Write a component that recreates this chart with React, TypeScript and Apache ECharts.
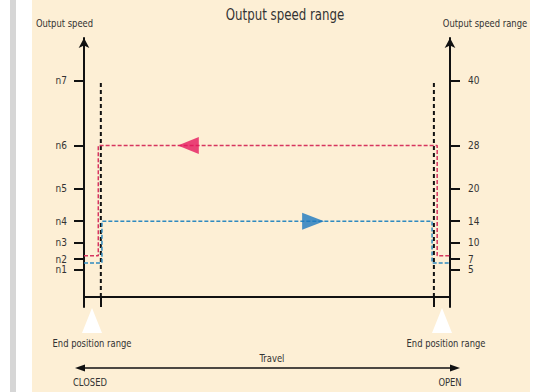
import React, { useEffect, useRef } from "react";
import * as echarts from "echarts";

// ---- data ----
const speedTicks = [5, 7, 10, 14, 20, 28, 40];
const speedLabels = ["n1", "n2", "n3", "n4", "n5", "n6", "n7"];
const endPositions = [4.6, 95.6];
const endLineTop = 39.7;
const redX = [0, 3.9, 3.9, 96.5, 96.5, 100];
const redY = [7.6, 7.6, 28, 28, 7.6, 7.6];
const blueX = [0, 4.9, 4.9, 95.1, 95.1, 100];
const blueY = [6.3, 6.3, 14, 14, 6.3, 6.3];
const redMarker = [28.5, 28];
const blueMarker = [62.6, 14];

const FONT = "'DejaVu Sans Condensed', 'Liberation Sans Narrow', sans-serif";
const TXT = "#333333";
const SX = 0.85;

const label = (text: string, x: number, y: number, size = 11, align = "center", sx = SX) => ({
  type: "text",
  x,
  y,
  scaleX: sx,
  style: { text, fill: TXT, font: `${size}px ${FONT}`, textAlign: align, textVerticalAlign: "middle" },
});

export default function App() {
  const ref = useRef<HTMLDivElement>(null);
  useEffect(() => {
    const chart = echarts.init(ref.current!, null, { renderer: "svg" });
    const labelMap: Record<string, string> = {};
    speedTicks.forEach((v, i) => (labelMap[String(v)] = speedLabels[i]));
    const yCommon = {
      type: "value",
      min: -1.85,
      max: 47.87,
      splitLine: { show: false },
      axisLine: {
        show: true,
        onZero: false,
        symbol: ["none", "arrow"],
        symbolSize: [8, 10],
        lineStyle: { color: "#111", width: 2 },
      },
      axisTick: {
        show: true,
        length: 10,
        customValues: speedTicks,
        lineStyle: { color: "#111", width: 2 },
      },
    };
    chart.setOption({
      animation: false,
      grid: { left: 84, right: 109, top: 38, bottom: 85 },
      xAxis: {
        type: "value",
        min: 0,
        max: 100,
        splitLine: { show: false },
        axisLine: { show: true, onZero: true, lineStyle: { color: "#111", width: 2 } },
        axisTick: {
          show: true,
          length: 10,
          customValues: endPositions,
          lineStyle: { color: "#111", width: 2 },
        },
        axisLabel: { show: false },
      },
      yAxis: [
        {
          ...yCommon,
          position: "left",
          axisLabel: {
            customValues: speedTicks,
            margin: 17,
            color: TXT,
            fontSize: 10,
            lineHeight: 10,
            fontFamily: FONT,
            formatter: (v: number) => labelMap[String(v)] ?? "",
          },
        },
        {
          ...yCommon,
          position: "right",
          axisLabel: {
            customValues: speedTicks,
            margin: 18,
            color: TXT,
            fontSize: 10,
            lineHeight: 10,
            fontFamily: FONT,
            formatter: (v: number) => String(v),
          },
        },
      ],
      series: [
        ...endPositions.map((x) => ({
          type: "line",
          data: [
            [x, 0],
            [x, endLineTop],
          ],
          symbol: "none",
          lineStyle: { color: "#111", width: 2, type: [4, 3] },
          z: 3,
        })),
        {
          type: "line",
          data: redX.map((x, i) => [x, redY[i]]),
          symbol: "none",
          lineStyle: { color: "#d7355f", width: 1.5, type: [4, 2] },
          z: 4,
        },
        {
          type: "line",
          data: blueX.map((x, i) => [x, blueY[i]]),
          symbol: "none",
          lineStyle: { color: "#2f8ac0", width: 1.5, type: [4, 2] },
          z: 4,
        },
        {
          type: "scatter",
          data: [redMarker],
          symbol: "triangle",
          symbolSize: [17, 21],
          symbolRotate: 90,
          itemStyle: { color: "#e5185e" },
          z: 5,
        },
        {
          type: "scatter",
          data: [blueMarker],
          symbol: "triangle",
          symbolSize: [17, 22],
          symbolRotate: -90,
          itemStyle: { color: "#1b78bf" },
          z: 5,
        },
      ],
      graphic: [
        { type: "rect", z: -100, shape: { x: 32, y: 0, width: 498, height: 392 }, style: { fill: "#fdefd5" } },
        { type: "rect", z: -100, shape: { x: 10, y: 0, width: 6, height: 392 }, style: { fill: "#d6d6d6" } },
        label("Output speed range", 285, 14, 16, "center", 0.82),
        label("Output speed", 64.5, 23),
        label("Output speed range", 485, 23),
        { type: "polygon", shape: { points: [[92, 308], [82, 333], [102, 333]] }, style: { fill: "#ffffff" } },
        { type: "polygon", shape: { points: [[442, 308], [432, 333], [452, 333]] }, style: { fill: "#ffffff" } },
        label("End position range", 92, 343),
        label("End position range", 446, 343),
        label("Travel", 272, 358),
        { type: "line", shape: { x1: 82, y1: 368, x2: 453, y2: 368 }, style: { stroke: "#111", lineWidth: 1.5 } },
        { type: "polygon", shape: { points: [[75, 368], [85, 364.5], [85, 371.5]] }, style: { fill: "#111" } },
        { type: "polygon", shape: { points: [[460, 368], [450, 364.5], [450, 371.5]] }, style: { fill: "#111" } },
        label("CLOSED", 73, 382, 11, "left"),
        label("OPEN", 450, 382),
      ],
    });
    return () => chart.dispose();
  }, []);
  return (
    <div
      ref={ref}
      style={{ position: "absolute", left: 0, top: 0, width: 559, height: 392, background: "#ffffff" }}
    />
  );
}
